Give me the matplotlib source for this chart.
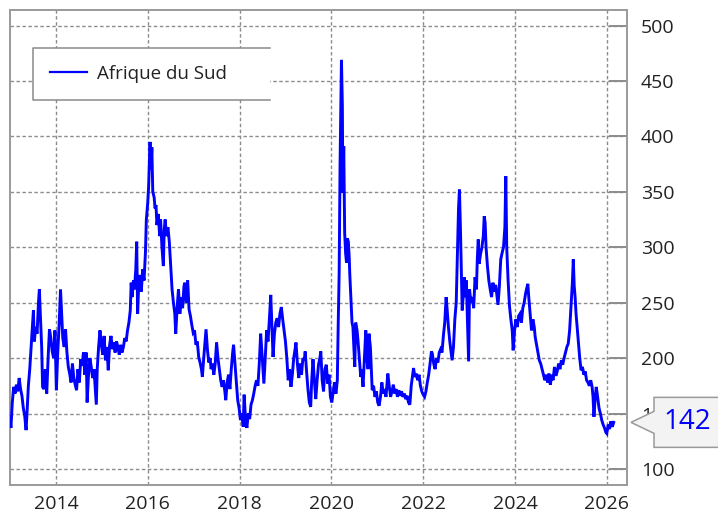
import matplotlib
matplotlib.use("Agg")
import matplotlib.pyplot as plt
from matplotlib.patches import Polygon
from matplotlib.lines import Line2D
from matplotlib.transforms import IdentityTransform

plt.rcParams['font.family'] = ['Open Sans', 'DejaVu Sans']

series_name = "Afrique du Sud"
last_label = "142"
year_ticks = [2014, 2016, 2018, 2020, 2022, 2024, 2026]
value_ticks = [100, 150, 200, 250, 300, 350, 400, 450, 500]

dates = [
    2013.00, 2013.02, 2013.05, 2013.08, 2013.11, 2013.14, 2013.17, 2013.20, 2013.23, 2013.26,
    2013.29, 2013.32, 2013.35, 2013.37, 2013.40, 2013.43, 2013.46, 2013.49, 2013.51, 2013.53,
    2013.56, 2013.59, 2013.62, 2013.64, 2013.66, 2013.69, 2013.71, 2013.74, 2013.77, 2013.80,
    2013.83, 2013.86, 2013.89, 2013.92, 2013.95, 2013.98, 2014.01, 2014.04, 2014.07, 2014.10,
    2014.12, 2014.15, 2014.18, 2014.21, 2014.24, 2014.27, 2014.30, 2014.33, 2014.36, 2014.39,
    2014.42, 2014.45, 2014.48, 2014.51, 2014.54, 2014.57, 2014.60, 2014.63, 2014.66, 2014.68,
    2014.71, 2014.74, 2014.77, 2014.80, 2014.83, 2014.86, 2014.88, 2014.90, 2014.93, 2014.96,
    2014.99, 2015.02, 2015.05, 2015.08, 2015.11, 2015.14, 2015.17, 2015.20, 2015.23, 2015.26,
    2015.29, 2015.32, 2015.35, 2015.38, 2015.41, 2015.44, 2015.47, 2015.50, 2015.53, 2015.56,
    2015.59, 2015.62, 2015.64, 2015.66, 2015.69, 2015.71, 2015.74, 2015.76, 2015.78, 2015.80,
    2015.83, 2015.86, 2015.89, 2015.92, 2015.95, 2015.97, 2016.00, 2016.02, 2016.04, 2016.05,
    2016.07, 2016.09, 2016.11, 2016.14, 2016.16, 2016.18, 2016.20, 2016.23, 2016.26, 2016.28,
    2016.31, 2016.34, 2016.36, 2016.38, 2016.41, 2016.44, 2016.47, 2016.50, 2016.53, 2016.56,
    2016.59, 2016.61, 2016.64, 2016.67, 2016.70, 2016.73, 2016.76, 2016.79, 2016.81, 2016.84,
    2016.87, 2016.90, 2016.93, 2016.96, 2016.99, 2017.02, 2017.05, 2017.08, 2017.11, 2017.14,
    2017.17, 2017.19, 2017.22, 2017.25, 2017.27, 2017.30, 2017.33, 2017.36, 2017.38, 2017.41,
    2017.44, 2017.47, 2017.50, 2017.53, 2017.56, 2017.59, 2017.62, 2017.65, 2017.68, 2017.70,
    2017.73, 2017.76, 2017.79, 2017.82, 2017.85, 2017.87, 2017.90, 2017.93, 2017.96, 2017.99,
    2018.02, 2018.05, 2018.08, 2018.10, 2018.13, 2018.16, 2018.19, 2018.22, 2018.25, 2018.28,
    2018.31, 2018.34, 2018.37, 2018.40, 2018.43, 2018.46, 2018.48, 2018.51, 2018.53, 2018.56,
    2018.59, 2018.62, 2018.65, 2018.68, 2018.70, 2018.73, 2018.76, 2018.79, 2018.82, 2018.85,
    2018.88, 2018.91, 2018.94, 2018.97, 2019.00, 2019.03, 2019.06, 2019.09, 2019.12, 2019.15,
    2019.18, 2019.21, 2019.23, 2019.26, 2019.29, 2019.32, 2019.35, 2019.38, 2019.41, 2019.43,
    2019.46, 2019.49, 2019.52, 2019.55, 2019.57, 2019.60, 2019.63, 2019.66, 2019.69, 2019.72,
    2019.75, 2019.77, 2019.80, 2019.83, 2019.86, 2019.89, 2019.92, 2019.95, 2019.98, 2020.01,
    2020.04, 2020.07, 2020.10, 2020.13, 2020.15, 2020.17, 2020.19, 2020.21, 2020.22, 2020.24,
    2020.25, 2020.27, 2020.29, 2020.31, 2020.33, 2020.35, 2020.37, 2020.39, 2020.40, 2020.43,
    2020.45, 2020.47, 2020.49, 2020.51, 2020.53, 2020.56, 2020.58, 2020.61, 2020.64, 2020.66,
    2020.69, 2020.72, 2020.75, 2020.77, 2020.80, 2020.82, 2020.85, 2020.87, 2020.89, 2020.92,
    2020.95, 2020.98, 2021.01, 2021.04, 2021.07, 2021.10, 2021.13, 2021.16, 2021.19, 2021.21,
    2021.23, 2021.26, 2021.29, 2021.32, 2021.35, 2021.38, 2021.41, 2021.44, 2021.47, 2021.50,
    2021.53, 2021.56, 2021.59, 2021.62, 2021.65, 2021.68, 2021.71, 2021.74, 2021.77, 2021.79,
    2021.82, 2021.85, 2021.88, 2021.91, 2021.94, 2021.97, 2022.00, 2022.03, 2022.06, 2022.09,
    2022.12, 2022.15, 2022.18, 2022.20, 2022.23, 2022.26, 2022.29, 2022.32, 2022.35, 2022.38,
    2022.41, 2022.44, 2022.47, 2022.50, 2022.52, 2022.55, 2022.58, 2022.61, 2022.63, 2022.66,
    2022.69, 2022.72, 2022.75, 2022.77, 2022.79, 2022.81, 2022.83, 2022.85, 2022.88, 2022.90,
    2022.92, 2022.94, 2022.96, 2022.99, 2023.01, 2023.04, 2023.07, 2023.10, 2023.13, 2023.16,
    2023.18, 2023.20, 2023.22, 2023.25, 2023.28, 2023.31, 2023.33, 2023.35, 2023.37, 2023.40,
    2023.43, 2023.46, 2023.49, 2023.52, 2023.55, 2023.58, 2023.61, 2023.63, 2023.66, 2023.69,
    2023.72, 2023.75, 2023.78, 2023.80, 2023.82, 2023.85, 2023.88, 2023.91, 2023.94, 2023.96,
    2023.99, 2024.02, 2024.05, 2024.08, 2024.11, 2024.14, 2024.17, 2024.20, 2024.23, 2024.25,
    2024.28, 2024.30, 2024.33, 2024.36, 2024.39, 2024.42, 2024.44, 2024.47, 2024.50, 2024.53,
    2024.56, 2024.59, 2024.62, 2024.65, 2024.68, 2024.71, 2024.74, 2024.77, 2024.80, 2024.83,
    2024.86, 2024.89, 2024.92, 2024.95, 2024.98, 2025.01, 2025.04, 2025.07, 2025.10, 2025.13,
    2025.16, 2025.19, 2025.22, 2025.25, 2025.27, 2025.29, 2025.31, 2025.33, 2025.36, 2025.38,
    2025.41, 2025.44, 2025.47, 2025.50, 2025.53, 2025.56, 2025.59, 2025.62, 2025.65, 2025.68,
    2025.70, 2025.72, 2025.74, 2025.77, 2025.80, 2025.83, 2025.86, 2025.89, 2025.92, 2025.95,
    2025.98, 2026.00, 2026.03, 2026.06, 2026.09, 2026.12, 2026.15,
]

values = [
    145, 137, 160, 174, 168, 176, 170, 182, 172, 166,
    155, 148, 135, 150, 175, 190, 210, 230, 243, 215,
    228, 222, 250, 262, 240, 210, 174, 172, 190, 168,
    200, 226, 218, 206, 200, 225, 171, 205, 230, 262,
    245, 218, 210, 226, 205, 192, 186, 178, 195, 182,
    176, 171, 190, 178, 199, 193, 205, 185, 205, 160,
    185, 200, 192, 182, 190, 170, 158, 190, 210, 225,
    212, 203, 220, 198, 210, 189, 212, 220, 208, 214,
    205, 215, 210, 203, 212, 205, 210, 218, 215, 225,
    232, 243, 268, 255, 270, 262, 280, 305, 240, 262,
    275, 260, 280, 270, 295, 325, 340, 355, 380, 395,
    370, 390, 350, 345, 335, 338, 320, 330, 310, 325,
    300, 283, 316, 325, 310, 318, 305, 283, 262, 250,
    240, 222, 245, 262, 240, 255, 245, 265, 268, 250,
    270, 244, 238, 230, 223, 225, 212, 215, 201, 196,
    190, 183, 200, 215, 226, 208, 196, 200, 190, 195,
    185, 195, 214, 200, 190, 180, 174, 180, 170, 162,
    178, 185, 172, 190, 205, 212, 195, 178, 162, 155,
    144, 150, 138, 167, 145, 137, 150, 145, 158, 162,
    168, 175, 180, 175, 195, 222, 210, 190, 177, 200,
    225, 215, 235, 257, 235, 201, 222, 232, 236, 228,
    240, 246, 235, 225, 215, 200, 180, 190, 174, 185,
    200, 208, 214, 195, 182, 195, 185, 200, 198, 206,
    188, 172, 160, 156, 178, 199, 180, 163, 180, 194,
    200, 206, 180, 170, 190, 194, 177, 185, 165, 160,
    170, 178, 168, 180, 232, 277, 376, 440, 469, 427,
    349, 391, 313, 295, 286, 308, 305, 290, 277, 250,
    232, 228, 210, 192, 232, 225, 216, 200, 183, 190,
    174, 200, 225, 200, 190, 222, 210, 190, 171, 175,
    165, 170, 160, 157, 165, 178, 168, 172, 165, 175,
    186, 175, 165, 170, 176, 168, 172, 165, 171, 166,
    170, 165, 168, 163, 166, 160, 158, 175, 185, 191,
    183, 186, 180, 185, 175, 170, 167, 165, 170, 178,
    185, 195, 206, 204, 195, 190, 200, 196, 205, 208,
    205, 220, 232, 255, 245, 228, 215, 205, 198, 210,
    235, 250, 300, 335, 352, 320, 280, 243, 260, 273,
    255, 270, 240, 197, 262, 250, 255, 245, 273, 262,
    290, 307, 285, 294, 300, 310, 328, 322, 300, 283,
    270, 262, 255, 268, 260, 266, 255, 248, 265, 289,
    295, 300, 318, 364, 300, 270, 247, 235, 225, 207,
    225, 235, 228, 238, 240, 232, 245, 250, 258, 262,
    267, 255, 240, 225, 235, 228, 219, 212, 205, 198,
    195, 190, 185, 180, 185, 178, 186, 176, 185, 180,
    192, 184, 188, 195, 190, 198, 194, 200, 205, 210,
    213, 225, 246, 268, 289, 265, 255, 240, 225, 216,
    200, 189, 192, 185, 188, 180, 178, 175, 180, 174,
    165, 147, 160, 174, 165, 155, 150, 144, 140, 137,
    133, 132, 140, 136, 143, 138, 142,
]

grey = "#8c8c8c"
txt = "#222222"

fig = plt.figure(figsize=(7.18, 5.18), dpi=100)
ax = fig.add_axes([10 / 718, 1 - 485 / 518, 617 / 718, 475 / 518])

ax.plot(dates, values, color="#0000ff", lw=2.1, label=series_name, zorder=3,
        solid_joinstyle="miter")

ax.set_xlim(2013.0, 2026.44)
ax.set_ylim(85.5, 514)
ax.set_xticks(year_ticks)
ax.set_xticklabels([str(y) for y in year_ticks])
ax.set_yticks(value_ticks)
ax.set_yticklabels([str(v) for v in value_ticks])

ax.yaxis.tick_right()
ax.tick_params(axis="y", direction="in", length=13, width=1.4, color=grey,
               labelsize=14, labelcolor=txt, pad=10)
ax.tick_params(axis="x", direction="in", length=0, labelsize=14,
               labelcolor=txt, pad=7)

ax.grid(True, color=grey, lw=1.0, linestyle=(0, (2.5, 1.8)))
ax.set_axisbelow(True)
for s in ax.spines.values():
    s.set_color("#9a9a9a")
    s.set_linewidth(1.4)

leg = ax.legend(loc="upper left", bbox_to_anchor=(0.0373, 0.8105, 0.384, 0.1095),
                mode="expand", fontsize=13.5, frameon=True, fancybox=False,
                borderpad=0.9, handlelength=2.0, handletextpad=0.5,
                borderaxespad=0)
leg.get_frame().set_edgecolor("none")
leg.get_frame().set_facecolor("white")
leg.get_frame().set_alpha(1)
for t in leg.get_texts():
    t.set_color(txt)
for h in leg.get_lines():
    h.set_linewidth(1.6)

fig.canvas.draw()
bb = leg.get_frame().get_window_extent()
border = Line2D([bb.x1, bb.x0, bb.x0, bb.x1], [bb.y1, bb.y1, bb.y0, bb.y0],
                color="#8a8a8a", lw=1.1, transform=IdentityTransform(), zorder=10)
fig.add_artist(border)

# callout with the last value
ax_right = ax.transAxes.transform((1, 0))[0]
y_last = ax.transData.transform((dates[-1], values[-1]))[1]
tip_x = ax_right + 4
box_l = tip_x + 23
box_r = 725
half_h = 25
notch = 11
verts = [(tip_x, y_last), (box_l, y_last + notch), (box_l, y_last + half_h),
         (box_r, y_last + half_h), (box_r, y_last - half_h), (box_l, y_last - half_h),
         (box_l, y_last - notch)]
fig.add_artist(Polygon(verts, closed=True, facecolor="#f3f3f3", edgecolor="#9a9a9a",
                       lw=1.1, transform=IdentityTransform(), zorder=10))
fig.text(box_l + 33, y_last, last_label, transform=IdentityTransform(),
         color="#0000ff", fontsize=20, ha="center", va="center", zorder=11)

fig.savefig("out.png", dpi=100)
